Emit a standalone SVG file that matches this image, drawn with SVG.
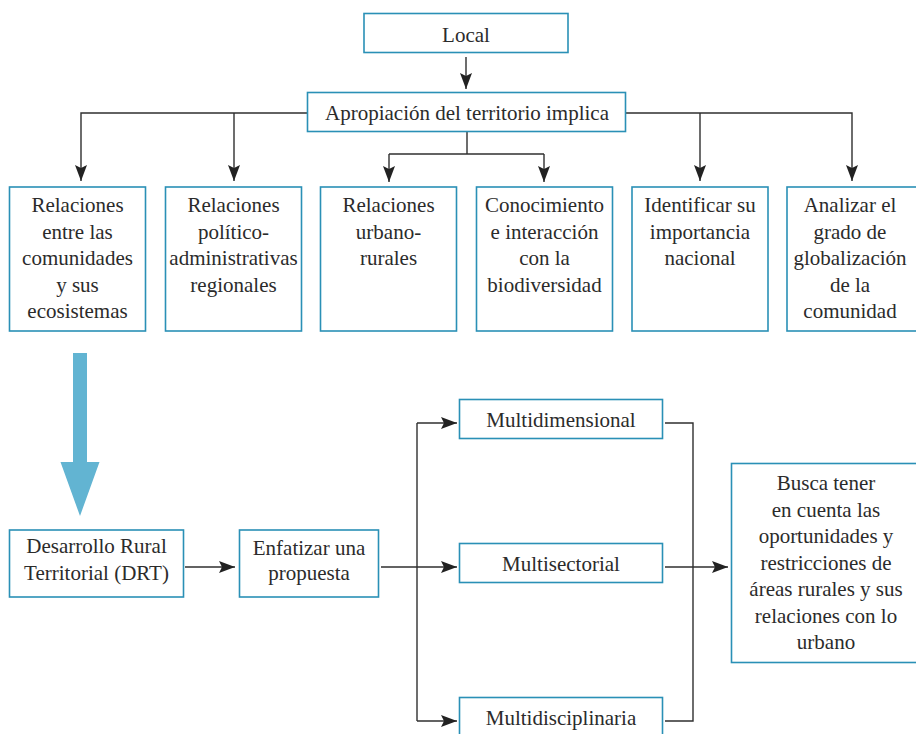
<svg xmlns="http://www.w3.org/2000/svg" width="916" height="734" viewBox="0 0 916 734">
<defs>
<style>
.box{fill:#fff;stroke:#2a90b6;stroke-width:1.6}
.t{font-size:21px;fill:#2b2b2b;text-anchor:middle}
.ln{fill:none;stroke:#2f2f2f;stroke-width:1.4}
</style>
<marker id="ar" viewBox="0 0 16 12" refX="16" refY="6" markerWidth="16" markerHeight="12" markerUnits="userSpaceOnUse" orient="auto">
<path d="M0,0 L16,6 L0,12 L3,6 Z" fill="#222"/>
</marker>
</defs>
<rect width="916" height="734" fill="#fff"/>

<g id="connectors">
<line class="ln" x1="466" y1="57" x2="466" y2="89" marker-end="url(#ar)"/>
<polyline class="ln" points="307,113 81,113 81,181" marker-end="url(#ar)"/>
<line class="ln" x1="234" y1="113" x2="234" y2="181" marker-end="url(#ar)"/>
<polyline class="ln" points="626,113 852,113 852,181" marker-end="url(#ar)"/>
<line class="ln" x1="700" y1="113" x2="700" y2="181" marker-end="url(#ar)"/>
<line class="ln" x1="467" y1="132" x2="467" y2="154"/>
<line class="ln" x1="389" y1="154" x2="544" y2="154"/>
<line class="ln" x1="389" y1="154" x2="389" y2="182" marker-end="url(#ar)"/>
<line class="ln" x1="544" y1="154" x2="544" y2="182" marker-end="url(#ar)"/>
<line class="ln" x1="185" y1="567" x2="235" y2="567" marker-end="url(#ar)"/>
<line class="ln" x1="381" y1="567" x2="457" y2="567" marker-end="url(#ar)"/>
<polyline class="ln" points="417,423 417,721"/>
<line class="ln" x1="417" y1="423" x2="457" y2="423" marker-end="url(#ar)"/>
<line class="ln" x1="417" y1="721" x2="457" y2="721" marker-end="url(#ar)"/>
<polyline class="ln" points="665,423 693,423 693,721 665,721"/>
<line class="ln" x1="665" y1="567" x2="728" y2="567" marker-end="url(#ar)"/>
<path d="M73,353 H87 V462 H99.5 L80,516 L60.5,462 H73 Z" fill="#62b4d2"/>
</g>

<g id="nodes" font-family="Liberation Serif, DejaVu Serif, serif">
<g id="n-local">
<rect class="box" x="364" y="13.5" width="204" height="39"/>
<text class="t" x="466" y="42">Local</text>
</g>
<g id="n-apropiacion">
<rect class="box" x="307.5" y="92.5" width="318" height="39"/>
<text class="t" x="467" y="120">Apropiación del territorio implica</text>
</g>

<g id="n-rel-comunidades">
<rect class="box" x="9.5" y="187" width="136" height="144"/>
<text class="t" x="77.5" y="212">Relaciones</text>
<text class="t" x="77.5" y="238.5">entre las</text>
<text class="t" x="77.5" y="265">comunidades</text>
<text class="t" x="77.5" y="291.5">y sus</text>
<text class="t" x="77.5" y="318">ecosistemas</text>
</g>
<g id="n-rel-politico">
<rect class="box" x="165.5" y="187" width="136" height="144"/>
<text class="t" x="233.5" y="212">Relaciones</text>
<text class="t" x="233.5" y="238.5">político-</text>
<text class="t" x="233.5" y="265">administrativas</text>
<text class="t" x="233.5" y="291.5">regionales</text>
</g>
<g id="n-rel-urbano">
<rect class="box" x="320.5" y="187" width="136" height="144"/>
<text class="t" x="388.5" y="212">Relaciones</text>
<text class="t" x="388.5" y="238.5">urbano-</text>
<text class="t" x="388.5" y="265">rurales</text>
</g>
<g id="n-conocimiento">
<rect class="box" x="476.5" y="187" width="136" height="144"/>
<text class="t" x="544.5" y="212">Conocimiento</text>
<text class="t" x="544.5" y="238.5">e interacción</text>
<text class="t" x="544.5" y="265">con la</text>
<text class="t" x="544.5" y="291.5">biodiversidad</text>
</g>
<g id="n-identificar">
<rect class="box" x="632" y="187" width="136" height="144"/>
<text class="t" x="700" y="212">Identificar su</text>
<text class="t" x="700" y="238.5">importancia</text>
<text class="t" x="700" y="265">nacional</text>
</g>
<g id="n-analizar">
<rect class="box" x="787" y="187" width="136" height="144"/>
<text class="t" x="850" y="212">Analizar el</text>
<text class="t" x="850" y="238.5">grado de</text>
<text class="t" x="850" y="265">globalización</text>
<text class="t" x="850" y="291.5">de la</text>
<text class="t" x="850" y="318">comunidad</text>
</g>

<g id="n-drt">
<rect class="box" x="9.5" y="530" width="174" height="67"/>
<text class="t" x="96.5" y="553">Desarrollo Rural</text>
<text class="t" x="96.5" y="580">Territorial (DRT)</text>
</g>
<g id="n-enfatizar">
<rect class="box" x="239.5" y="530" width="139" height="67"/>
<text class="t" x="309" y="555">Enfatizar una</text>
<text class="t" x="309" y="580">propuesta</text>
</g>
<g id="n-multidimensional">
<rect class="box" x="459.5" y="399.5" width="203" height="39"/>
<text class="t" x="561" y="427">Multidimensional</text>
</g>
<g id="n-multisectorial">
<rect class="box" x="459.5" y="543.5" width="203" height="39"/>
<text class="t" x="561" y="571">Multisectorial</text>
</g>
<g id="n-multidisciplinaria">
<rect class="box" x="459.5" y="697.5" width="203" height="45"/>
<text class="t" x="561" y="725">Multidisciplinaria</text>
</g>
<g id="n-busca">
<rect class="box" x="731.5" y="463.5" width="192" height="199"/>
<text class="t" x="826" y="490">Busca tener</text>
<text class="t" x="826" y="516.5">en cuenta las</text>
<text class="t" x="826" y="543">oportunidades y</text>
<text class="t" x="826" y="569.5">restricciones de</text>
<text class="t" x="826" y="596">áreas rurales y sus</text>
<text class="t" x="826" y="622.5">relaciones con lo</text>
<text class="t" x="826" y="649">urbano</text>
</g>
</g>
</svg>
